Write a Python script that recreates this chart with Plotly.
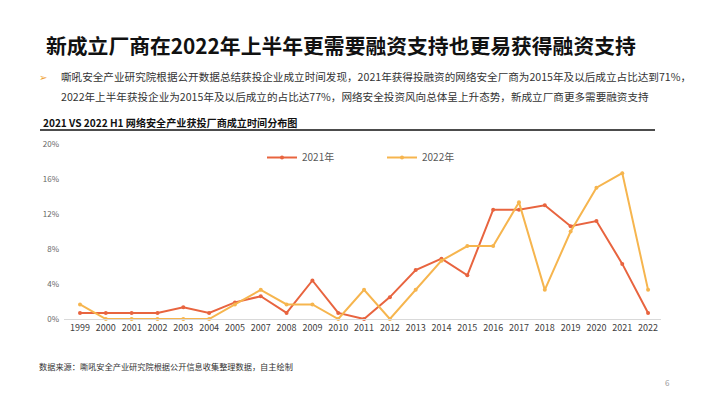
import plotly.graph_objects as go

years = ["1999", "2000", "2001", "2002", "2003", "2004", "2005", "2007", "2008", "2009",
         "2010", "2011", "2012", "2013", "2014", "2015", "2016", "2017", "2018", "2019",
         "2020", "2021", "2022"]
share_2021 = [0.69, 0.69, 0.69, 0.69, 1.33, 0.69, 1.9, 2.6, 0.69, 4.4,
              0.69, 0.0, 2.5, 5.6, 6.9, 5.0, 12.5, 12.5, 13.0, 10.6,
              11.2, 6.3, 0.69]
share_2022 = [1.67, 0.0, 0.0, 0.0, 0.0, 0.0, 1.67, 3.33, 1.67, 1.67,
              0.0, 3.33, 0.0, 3.33, 6.67, 8.33, 8.33, 13.33, 3.33, 10.0,
              15.0, 16.67, 3.33]
y_ticks = [0, 4, 8, 12, 16, 20]
y_tick_labels = ["0%", "4%", "8%", "12%", "16%", "20%"]

RED = "#E8643F"
ORANGE = "#F6B54E"
FONT = "Noto Sans CJK SC"

W, H = 710, 399


def px(x):
    return x / W


def py(y):
    return 1 - y / H


fig = go.Figure()
fig.add_trace(go.Scatter(x=years, y=share_2021, name="2021年", mode="lines+markers",
                         line=dict(color=RED, width=2), marker=dict(size=4, color=RED),
                         cliponaxis=False))
fig.add_trace(go.Scatter(x=years, y=share_2022, name="2022年", mode="lines+markers",
                         line=dict(color=ORANGE, width=2), marker=dict(size=4, color=ORANGE),
                         cliponaxis=False))

fig.update_layout(
    width=W, height=H,
    margin=dict(l=0, r=0, t=0, b=0, autoexpand=False),
    paper_bgcolor="white", plot_bgcolor="white",
    font=dict(family=FONT, color="#333"),
    showlegend=True,
    legend=dict(orientation="h", x=px(262), y=py(143),
                xanchor="left", yanchor="top", itemwidth=30, entrywidth=75,
                font=dict(size=10, color="#595959"), bgcolor="rgba(0,0,0,0)"),
    xaxis=dict(type="category", domain=[px(64), px(661)], range=[-0.62, 22.5],
               tickfont=dict(size=9, color="#404040", family=FONT),
               showgrid=False, showline=True, linecolor="#D9D9D9", linewidth=1,
               ticks="", ticklen=0, zeroline=False, tickangle=0, automargin=False),
    yaxis=dict(range=[0, 20], domain=[py(319), py(144)], tickvals=y_ticks, ticktext=y_tick_labels,
               tickfont=dict(size=8, color="#666", family=FONT), ticklabelstandoff=4,
               showgrid=False, zeroline=False, showline=False, ticks="", automargin=False),
)

anns = [
    dict(text="<b>新成立厂商在2022年上半年更需要融资支持也更易获得融资支持</b>", x=px(44), y=py(45),
         font=dict(size=20.8, color="#111")),
    dict(text="➢", x=px(37), y=py(77), font=dict(size=10, color="#F0A030")),
    dict(text="嘶吼安全产业研究院根据公开数据总结获投企业成立时间发现，2021年获得投融资的网络安全厂商为2015年及以后成立占比达到71%，",
         x=px(59), y=py(77), font=dict(size=10.6, color="#333")),
    dict(text="2022年上半年获投企业为2015年及以后成立的占比达77%，网络安全投资风向总体呈上升态势，新成立厂商更多需要融资支持",
         x=px(59), y=py(97), font=dict(size=10.6, color="#333")),
    dict(text="<b>2021 VS 2022 H1 网络安全产业获投厂商成立时间分布图</b>", x=px(41), y=py(122),
         font=dict(size=10.1, color="#111")),
    dict(text="数据来源：嘶吼安全产业研究院根据公开信息收集整理数据，自主绘制", x=px(37), y=py(366),
         font=dict(size=8.2, color="#333")),
    dict(text="6", x=px(663), y=py(382), font=dict(size=8, color="#999")),
]
for a in anns:
    fig.add_annotation(xref="paper", yref="paper", xanchor="left", yanchor="middle",
                       showarrow=False, **a)

fig.add_shape(type="line", xref="paper", yref="paper", x0=px(40), x1=px(655),
              y0=py(130), y1=py(130), line=dict(color="#111", width=1.5))

fig.write_html("out.html", config={"displayModeBar": False},
               post_script="document.body.style.margin='0px';")
